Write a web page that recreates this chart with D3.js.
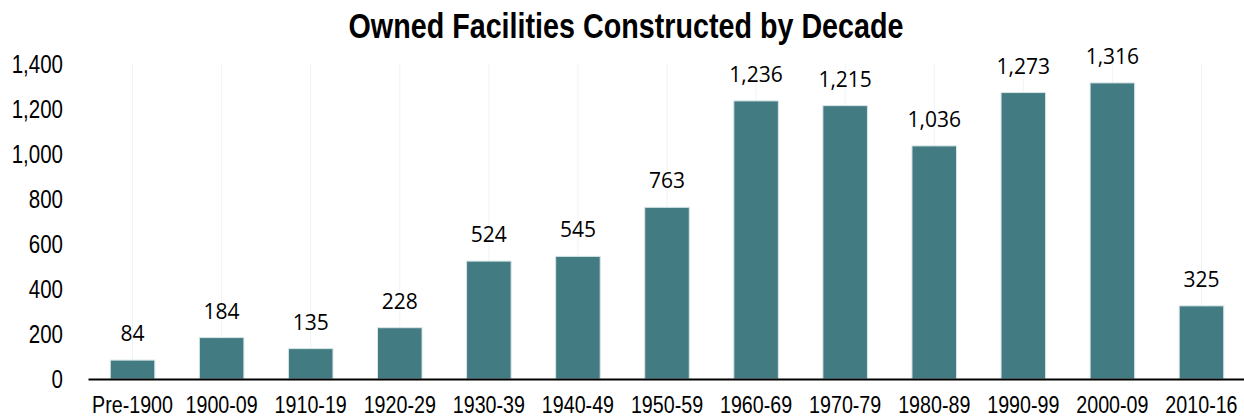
<!DOCTYPE html>
<html>
<head>
<meta charset="utf-8">
<script src="https://cdn.jsdelivr.net/npm/d3@7"></script>
<style>
  body { margin: 0; background: #fff; }
  svg { display: block; }
</style>
</head>
<body>
<div id="chart"></div>
<script>
// chart data
const decades = ["Pre-1900", "1900-09", "1910-19", "1920-29", "1930-39", "1940-49", "1950-59",
                 "1960-69", "1970-79", "1980-89", "1990-99", "2000-09", "2010-16"];
const facilities = [84, 184, 135, 228, 524, 545, 763, 1236, 1215, 1036, 1273, 1316, 325];
const yTicks = [0, 200, 400, 600, 800, 1000, 1200, 1400];
const chartTitle = "Owned Facilities Constructed by Decade";

const width = 1244, height = 418;
const margin = {top: 64, right: -2, bottom: 39, left: 88};
// no narrow font installed, so squeeze Liberation Sans horizontally
const squeeze = 0.82;
const sans = "'Liberation Sans', Arial, sans-serif";

const svg = d3.select("#chart")
  .append("svg")
  .attr("width", width)
  .attr("height", height);

const x = d3.scaleBand()
  .domain(decades)
  .range([margin.left, width - margin.right])
  .paddingInner(0.5)
  .paddingOuter(0.25);

const y = d3.scaleLinear()
  .domain([0, 1400])
  .range([height - margin.bottom, margin.top]);

// title
svg.append("g")
  .attr("transform", "translate(626,38)")
  .append("text")
  .attr("transform", `scale(${squeeze},1)`)
  .attr("text-anchor", "middle")
  .style("font-family", sans)
  .style("font-weight", "bold")
  .style("font-size", "35px")
  .attr("fill", "#000")
  .text(chartTitle);

// faint vertical lines at bar centers
svg.append("g")
  .selectAll("line")
  .data(decades)
  .join("line")
    .attr("x1", d => x(d) + x.bandwidth() / 2)
    .attr("x2", d => x(d) + x.bandwidth() / 2)
    .attr("y1", y(1400))
    .attr("y2", y(0))
    .attr("stroke", "#eef4f4")
    .attr("stroke-width", 1);

// y axis (labels only)
const yAxis = svg.append("g")
  .attr("transform", `translate(${margin.left},0)`)
  .call(d3.axisLeft(y).tickValues(yTicks).tickFormat(d3.format(",")).tickSize(0).tickPadding(25));
yAxis.select(".domain").remove();
yAxis.selectAll("text")
  .attr("x", -25 / squeeze)
  .attr("transform", `scale(${squeeze},1)`)
  .style("font-family", sans)
  .style("font-size", "25px")
  .attr("fill", "#000");

// bars
svg.append("g")
  .selectAll("rect")
  .data(facilities)
  .join("rect")
    .attr("x", (d, i) => x(decades[i]))
    .attr("y", d => y(d))
    .attr("width", x.bandwidth())
    .attr("height", d => y(0) - y(d))
    .attr("fill", "#437b82")
    .attr("stroke", "#d8e6e7")
    .attr("stroke-width", 1);

// value labels
svg.append("g")
  .selectAll("text")
  .data(facilities)
  .join("text")
    .attr("x", (d, i) => x(decades[i]) + x.bandwidth() / 2)
    .attr("y", d => y(d) - 19)
    .attr("text-anchor", "middle")
    .style("font-family", "'Open Sans', 'Noto Sans', sans-serif")
    .style("font-size", "21px")
    .attr("fill", "#000")
    .text(d => d3.format(",")(d));

// x axis
const xAxis = svg.append("g")
  .attr("transform", `translate(0,${y(0)})`)
  .call(d3.axisBottom(x).tickSize(0).tickPadding(17));
xAxis.select(".domain")
  .attr("stroke", "#000")
  .attr("stroke-width", 2);
xAxis.selectAll("text")
  .attr("transform", `scale(${squeeze},1)`)
  .style("font-family", sans)
  .style("font-size", "24px")
  .attr("fill", "#000");
</script>
</body>
</html>
